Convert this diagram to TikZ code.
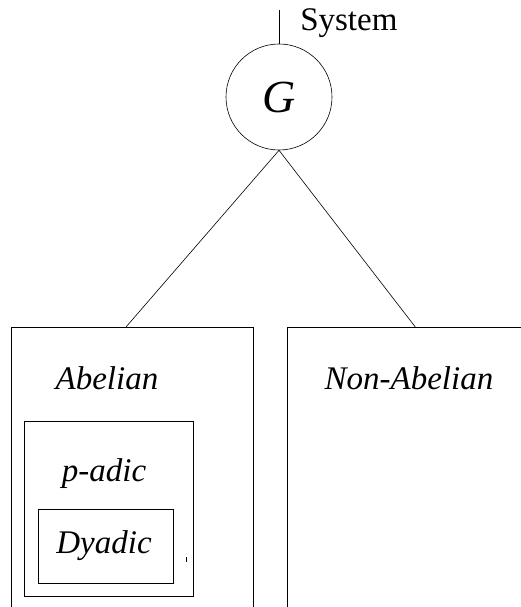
\documentclass[tikz,border=0pt]{standalone}
\usepackage{fontspec}
\setmainfont{Liberation Serif}
\tikzset{
    box/.style={draw, line width=0.6pt, anchor=north west, inner sep=0pt},
    lbl/.style={font=\fontsize{33}{36}\selectfont\itshape, inner sep=0pt}
}
\begin{document}
\begin{tikzpicture}[x=1pt,y=-1pt,line width=0.6pt]
    \useasboundingbox (0,0) rectangle (521,607);
    \clip (0,0) rectangle (521,607);

    % root
    \node[draw, circle, minimum size=106pt, inner sep=0pt] (g) at (279,97)
        {\fontsize{46}{46}\selectfont\itshape G};
    \coordinate (top) at (279,10);
    \draw (g.north) -- (top);
    \node[anchor=base west, font=\fontsize{33}{36}\selectfont, inner sep=0pt] (sys) at (300,31) {System};

    % the two classes
    \node[box, minimum width=242pt, minimum height=400pt] (abel) at (11,327) {};
    \node[box, minimum width=256pt, minimum height=400pt] (nonab) at (287,327) {};
    \coordinate (abtop) at (126,327);
    \draw (g.south) -- (abtop);
    \draw (g.south) -- (nonab.north);
    \node[lbl] (ab) at (107,378) {Abelian};
    \node[lbl] (nab) at (409,378) {Non-Abelian};

    % nested boxes
    \node[box, minimum width=169pt, minimum height=175pt] (padic) at (24,421) {};
    \node[lbl] (pa) at (104,474) {p-adic};
    \node[box, minimum width=135pt, minimum height=74pt] (dyad) at (38,509) {};
    \node[lbl] (dy) at (104,546) {Dyadic};
    \draw[line width=0.4pt] (186,557) -- (186,562);

\end{tikzpicture}
\end{document}
